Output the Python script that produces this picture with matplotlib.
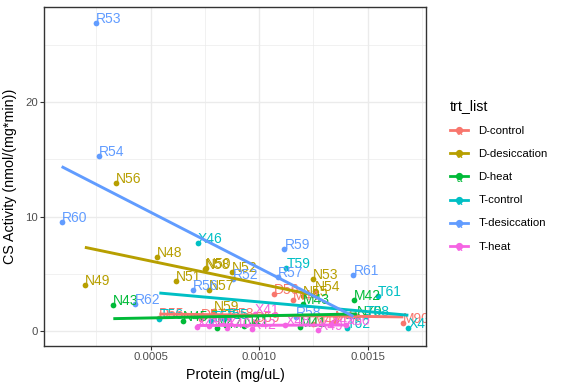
import numpy as np
import matplotlib
matplotlib.use("Agg")
import matplotlib.pyplot as plt
from matplotlib.legend_handler import HandlerBase
from matplotlib.lines import Line2D
from matplotlib.text import Text

plt.rcParams["font.family"] = ["Liberation Sans", "DejaVu Sans"]

# treatment levels and ggplot default hue colours
trt_list = ["D-control", "D-desiccation", "D-heat", "T-control", "T-desiccation", "T-heat"]
trt_colors = ["#F8766D", "#B79F00", "#00BA38", "#00BFC4", "#619CFF", "#F564E3"]

# sample ids, protein (mg/uL) and CS activity (nmol/(mg*min)) per treatment
d_control_ids = ["D55", "D57", "D58", "D59", "D56", "M44", "M45", "M46", "M90"]
d_control_protein = [0.00054, 0.00073, 0.00086, 0.00098, 0.001068, 0.001157, 0.00125, 0.00135, 0.001664]
d_control_cs = [1.15, 1.0, 1.1, 0.8, 3.23, 2.73, 0.6, 0.9, 0.70]

d_desic_ids = ["N49", "N56", "N48", "N51", "N58", "N50", "N57", "N52", "N59", "N55", "N53", "N54"]
d_desic_protein = [0.000197, 0.00034, 0.000528, 0.000618, 0.000749, 0.000755, 0.000769, 0.000876,
                   0.00079, 0.001203, 0.001247, 0.001257]
d_desic_cs = [4.04, 12.9, 6.48, 4.39, 5.41, 5.5, 3.55, 5.12, 1.7, 3.08, 4.53, 3.46]

d_heat_ids = ["N43", "N45", "N47", "N41", "M41", "M43", "M42", "N70"]
d_heat_protein = [0.000328, 0.000647, 0.000804, 0.00093, 0.001188, 0.001203, 0.001437, 0.00145]
d_heat_cs = [2.27, 0.90, 0.23, 0.46, 0.32, 2.35, 2.70, 1.3]

t_control_ids = ["T56", "X46", "T57", "T55", "T59", "T62", "T58", "T61", "X47"]
t_control_protein = [0.00054, 0.000717, 0.00078, 0.00084, 0.001125, 0.001403, 0.00149, 0.001546, 0.001687]
t_control_cs = [1.05, 7.67, 0.9, 1.0, 5.47, 0.23, 1.33, 3.02, 0.23]

t_desic_ids = ["R60", "R53", "R54", "R62", "R56", "R52", "R57", "R59", "R58", "R61"]
t_desic_protein = [0.00009, 0.000247, 0.000262, 0.000429, 0.000695, 0.000881, 0.001085, 0.001116,
                   0.00117, 0.001434]
t_desic_cs = [9.53, 26.97, 15.34, 2.33, 3.60, 4.57, 4.73, 7.15, 1.2, 4.88]

t_heat_ids = ["X43", "X44", "X40", "X42", "X41", "X48", "X49", "X45", "X50"]
t_heat_protein = [0.000712, 0.00077, 0.00085, 0.000965, 0.00098, 0.00112, 0.001272, 0.00133, 0.0014]
t_heat_cs = [0.32, 0.45, 0.25, 0.17, 1.5, 0.55, 0.05, 0.6, 0.55]

groups = [
    (d_control_ids, d_control_protein, d_control_cs),
    (d_desic_ids, d_desic_protein, d_desic_cs),
    (d_heat_ids, d_heat_protein, d_heat_cs),
    (t_control_ids, t_control_protein, t_control_cs),
    (t_desic_ids, t_desic_protein, t_desic_cs),
    (t_heat_ids, t_heat_protein, t_heat_cs),
]


class KeyHandler(HandlerBase):
    # ggplot-like key: line + point + "a"
    def create_artists(self, legend, orig_handle, xdescent, ydescent,
                       width, height, fontsize, trans):
        c = orig_handle.get_color()
        yc = height / 2 - ydescent
        line = Line2D([-xdescent, width - xdescent], [yc, yc], color=c, lw=2, transform=trans)
        dot = Line2D([width / 2 - xdescent], [yc], marker="o", ms=4.2, color=c, lw=0,
                     transform=trans)
        txt = Text(width / 2 - xdescent, yc - 1.5, "a", color=c, ha="center", va="center",
                   fontsize=7, transform=trans)
        return [line, dot, txt]


fig = plt.figure(figsize=(5.64, 3.89), dpi=100)
ax = fig.add_axes([44.3 / 564, 1 - 345.7 / 389, (425.7 - 44.3) / 564, (345.7 - 7.3) / 389])

all_x, all_y = [], []
handles = []
for (ids, prot, cs), name, col in zip(groups, trt_list, trt_colors):
    x = np.array(prot)
    y = np.array(cs)
    all_x.extend(x)
    all_y.extend(y)
    ax.scatter(x, y, s=17, color=col, zorder=3, linewidths=0)
    for lab, xi, yi in zip(ids, x, y):
        ax.text(xi, yi, lab, color=col, fontsize=10, ha="left", va="baseline",
                zorder=4, clip_on=True)
    # linear fit, se = FALSE
    k, b = np.polyfit(x, y, 1)
    xs = np.array([x.min(), x.max()])
    ax.plot(xs, k * xs + b, color=col, lw=2.1, zorder=5, solid_capstyle="butt")
    handles.append(Line2D([], [], color=col, label=name))

# ggplot default 5% expansion
xmin, xmax = min(all_x), max(all_x)
ymin, ymax = min(all_y), max(all_y)
dx, dy = (xmax - xmin) * 0.05, (ymax - ymin) * 0.05
ax.set_xlim(xmin - dx, xmax + dx)
ax.set_ylim(ymin - dy, ymax + dy)

ax.set_xticks([0.0005, 0.0010, 0.0015], labels=["0.0005", "0.0010", "0.0015"])
ax.set_xticks([0.00025, 0.00075, 0.00125, 0.00175], minor=True)
ax.set_yticks([0, 10, 20], labels=["0", "10", "20"])
ax.set_yticks([5, 15, 25], minor=True)
ax.tick_params(axis="both", which="major", labelsize=8.2, labelcolor="#4D4D4D",
               color="#333333", length=2.8, width=0.8, pad=2)
ax.tick_params(axis="both", which="minor", length=0)
ax.grid(True, which="major", color="#EBEBEB", lw=1.0, zorder=0)
ax.grid(True, which="minor", color="#EBEBEB", lw=0.5, zorder=0)
ax.set_axisbelow(True)
for sp in ax.spines.values():
    sp.set_color("#333333")
    sp.set_linewidth(1.0)
    sp.set_zorder(6)

ax.set_xlabel("Protein (mg/uL)", fontsize=10.3, labelpad=4)
ax.set_ylabel("CS Activity (nmol/(mg*min))", fontsize=10.3, labelpad=6)

leg = fig.legend(handles=handles, loc="upper left", bbox_to_anchor=(441 / 564, 1 - 90 / 389),
                 frameon=False, title="trt_list", title_fontsize=10.3, fontsize=8.2,
                 handler_map={Line2D: KeyHandler()}, handlelength=1.6, handleheight=1.2,
                 handletextpad=0.9, labelspacing=1.0, alignment="left", borderpad=0.3)

fig.savefig("out.png", dpi=100)
